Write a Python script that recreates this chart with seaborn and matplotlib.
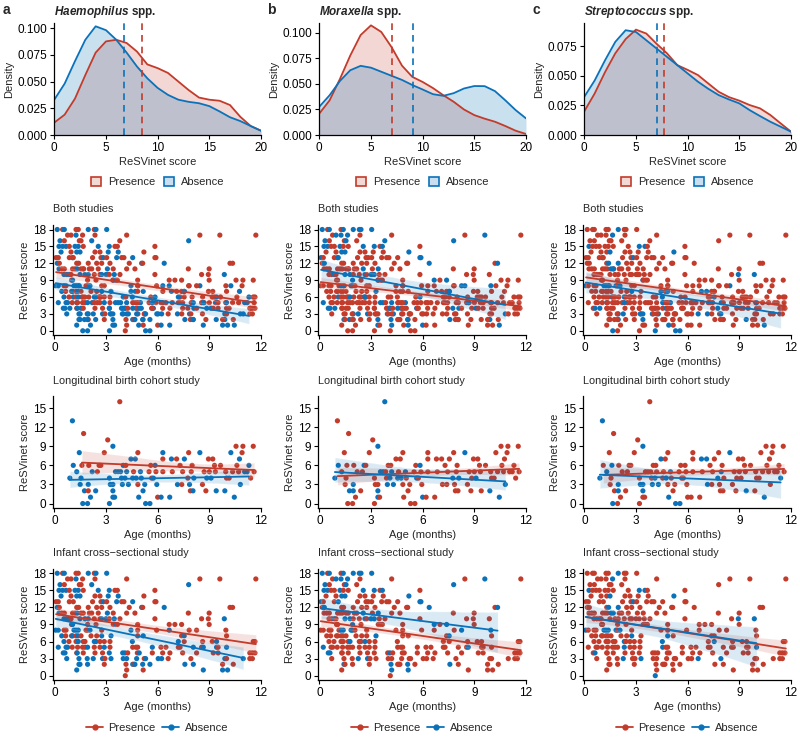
import numpy as np
import pandas as pd
import matplotlib.pyplot as plt
import seaborn as sns
from matplotlib.lines import Line2D
from matplotlib.patches import Patch

# ---- density curves (ReSVinet score 0..20) ----
dens_x = [0, 1, 2, 3, 4, 5, 6, 7, 8, 9, 10, 11, 12, 13, 14, 15, 16, 17, 18, 19, 20]
haem_pres = [0.0116, 0.019, 0.034, 0.056, 0.077, 0.0875, 0.089, 0.086, 0.078, 0.066, 0.0625,
             0.058, 0.050, 0.042, 0.035, 0.033, 0.032, 0.028, 0.017, 0.0084, 0.004]
haem_abs = [0.033, 0.048, 0.069, 0.089, 0.1016, 0.098, 0.089, 0.077, 0.064, 0.053, 0.044,
            0.0375, 0.033, 0.031, 0.0297, 0.027, 0.022, 0.0166, 0.013, 0.0084, 0.004]
mora_pres = [0.021, 0.034, 0.055, 0.078, 0.098, 0.1075, 0.101, 0.086, 0.068, 0.057, 0.052,
             0.046, 0.039, 0.0326, 0.025, 0.0195, 0.016, 0.013, 0.0088, 0.0042, 0.001]
mora_abs = [0.0277, 0.039, 0.053, 0.0635, 0.0678, 0.066, 0.062, 0.058, 0.054, 0.049, 0.0446,
            0.040, 0.0384, 0.041, 0.0456, 0.048, 0.0479, 0.043, 0.034, 0.0244, 0.0163]
strep_pres = [0.020, 0.035, 0.053, 0.069, 0.081, 0.089, 0.0857, 0.077, 0.069, 0.059, 0.055,
              0.0506, 0.0435, 0.0365, 0.032, 0.029, 0.0253, 0.0225, 0.0169, 0.0098, 0.0028]
strep_abs = [0.0323, 0.046, 0.063, 0.0787, 0.0885, 0.087, 0.080, 0.073, 0.066, 0.059, 0.052,
             0.045, 0.039, 0.0337, 0.030, 0.0267, 0.021, 0.016, 0.0112, 0.007, 0.0028]
mean_pres = [8.45, 7.0, 7.74]
mean_abs = [6.74, 9.03, 7.0]

# ---- longitudinal birth cohort study (age in months, score) ----
long_age = [0.9, 1.05, 1.1, 1.3, 1.45, 1.5, 1.55, 1.65, 1.7, 1.6,
            1.75, 1.93, 1.97, 1.97, 2.0, 2.1, 2.2, 2.4, 2.5, 2.6,
            2.7, 2.9, 3.1, 3.2, 3.2, 3.25, 3.4, 3.4, 3.4, 3.4,
            3.5, 3.55, 3.7, 3.8, 3.85, 3.9, 3.95, 4.0, 4.1, 4.15,
            4.2, 4.3, 4.45, 4.55, 4.6, 4.7, 4.75, 4.85, 4.85, 4.9,
            5.0, 5.05, 5.15, 5.25, 5.3, 5.5, 5.55, 5.6, 5.65, 5.75,
            5.85, 5.9, 5.95, 6.0, 6.2, 6.3, 6.3, 6.3, 6.7, 6.8,
            6.85, 7.1, 7.15, 7.3, 7.4, 7.45, 7.55, 7.75, 7.8, 7.85,
            7.9, 7.95, 8.0, 8.05, 8.1, 8.45, 8.6, 8.7, 8.8, 8.85,
            8.95, 9.0, 9.1, 9.2, 9.3, 9.35, 9.4, 9.65, 9.9, 9.95,
            10.0, 10.15, 10.25, 10.35, 10.45, 10.55, 10.6, 10.7, 10.75, 10.8,
            10.9, 10.95, 11.05, 11.2, 11.3, 11.4, 11.55, 11.6]
long_score = [4, 13, 6, 5, 8, 3, 4, 0, 11, 6,
              2, 0, 3, 2, 6, 1, 5, 2, 5, 6,
              6, 8, 10, 0, 4, 3, 9, 3, 2, 1,
              1, 5, 5, 16, 5, 4, 3, 6, 4, 6,
              5, 3, 7, 4, 5, 7, 4, 8, 3, 1,
              5, 4, 2, 3, 0, 5, 0, 6, 4, 4,
              6, 5, 3, 1, 1, 8, 7, 5, 1, 7,
              5, 7, 3, 6, 3, 5, 7, 4, 8, 3,
              2, 5, 6, 2, 4, 8, 3, 5, 2, 4,
              7, 5, 4, 7, 6, 5, 2, 6, 2, 5,
              4, 4, 8, 5, 1, 9, 6, 5, 7, 3,
              8, 9, 5, 5, 6, 4, 9, 5]
# P = presence, A = absence of each genus
long_haem = ("AAAAAAAAPP AAAPPAAAPP PPPAAAAAAA AAAPAAAAAP AAAAPAAPPA AAAAAPAPPA "
             "APAPAAPPAA PPAPPPAPPA PPPAAAPPPA PPAPPPAPAP PPAPAPPPAA PPAAAPPP")
long_mora = ("APAPPPPPPP APAAPPPPPA PPPPPPAPAA PAAAPPAPAP AAPAPPAPPP APPPPPPPAP "
             "APPAPPPPPP PPPPPPPAPP PPPPAAPPPP PPAPPPPPAP PPPPAPPPPA PPPPPPPP")
long_strep = ("AAPAPPPAPA PPAAPPPPPP PPPPPAAAAP PPPPPPAPAP PAAPPPAPPA APPPAPAPPP "
              "PPPPPPPPPA PAAPPPPAPP PAPPPAPPPP PPPPPPAPPP PPPPAPPPPP PPPPPAPP")

# ---- infant cross-sectional study: ages listed per score row ----
cross_rows = [18, 17, 16, 15, 14, 13, 12, 11, 10, 9, 8, 7, 6, 5, 4, 3, 2, 1, 0]
cross_age_rows = [
    [0.17, 0.48, 0.58, 1.26, 1.39, 1.97, 2.32, 2.42, 3.04],
    [0.77, 0.97, 1.26, 1.64, 2.36, 4.2, 8.45, 9.61, 11.7],
    [0.33, 0.58, 1.45, 1.55, 2.17, 7.8],
    [0.27, 0.48, 0.68, 0.87, 1.2, 1.39, 1.68, 2.55, 3.19, 3.52, 3.66, 5.84],
    [0.39, 0.97, 1.3, 1.49, 2.36, 2.65, 3.13, 3.71, 5.2],
    [0.1, 0.23, 0.87, 1.1, 2.22, 2.71, 2.84, 3.04, 3.62, 3.91, 4.04, 4.55, 5.84, 5.9],
    [0.17, 0.29, 1.3, 1.41, 1.97, 2.46, 2.75, 3.23, 4.35, 5.07, 5.13, 6.38, 10.2, 10.35],
    [0.27, 0.43, 0.58, 1.06, 1.2, 1.33, 1.55, 1.68, 2.03, 2.17, 2.55, 3.08, 3.42, 4.2, 4.68, 7.78, 8.99],
    [0.56, 0.72, 0.87, 0.97, 1.49, 1.78, 1.97, 2.32, 2.65, 2.75, 3.0, 3.19, 3.48, 3.81, 5.84, 8.55, 8.94, 9.87],
    [1.0, 1.06, 1.93, 2.42, 3.42, 3.56, 3.66, 4.84, 6.67, 7.0, 7.39, 8.99],
    [0.08, 0.23, 0.56, 0.68, 1.14, 1.26, 1.39, 1.84, 1.93, 2.07, 2.75, 4.45, 4.84, 5.94, 6.67, 7.83, 8.26, 9.96],
    [0.43, 0.66, 1.0, 1.06, 1.26, 1.37, 1.55, 2.13, 2.46, 2.75, 3.29, 4.84, 5.16, 7.39, 7.54, 10.0],
    [0.56, 0.85, 1.26, 1.39, 1.68, 1.78, 2.32, 2.42, 2.65, 2.9, 3.23, 4.53, 7.2, 7.54, 8.61, 9.17, 9.42, 11.55, 11.65],
    [0.23, 0.68, 0.77, 1.04, 1.35, 1.64, 1.78, 1.93, 2.32, 2.65, 2.9, 3.23, 4.55, 4.74, 4.84, 5.69, 6.19,
     6.48, 7.2, 7.3, 8.07, 8.55, 8.65, 9.42, 9.51, 10.0],
    [0.52, 0.62, 1.3, 1.33, 1.68, 2.36, 2.8, 3.19, 3.97, 4.1, 4.26, 4.82, 4.93, 5.69, 6.29, 6.71, 7.45,
     8.26, 9.23, 9.51, 11.35, 11.5, 11.65],
    [0.72, 1.43, 1.91, 2.26, 2.8, 2.94, 3.29, 4.0, 4.2, 4.78, 5.22, 5.3, 6.03, 6.23, 6.61, 7.93, 9.9,
     10.0, 10.97, 11.35, 11.5],
    [1.43, 1.49, 1.93, 2.9, 4.16, 4.55, 4.62, 4.68, 5.13, 5.55, 7.58, 8.07, 9.77, 10.39],
    [1.3, 4.2, 5.16, 8.65, 9.77, 10.06],
    [4.12],
]
cross_haem = ("APAPPAPAA PPAPPPPPP APPPAA AAAPAAPAAPPP APAAPPAAP PPPPPPAPAPPAPP "
              "APPPPPPPPAPAPP APPPPAPPPPPAPPPPP AAAPAAAPPAAPAPPPPA PAPPPAPPPPPP "
              "AAPPAAAPPAPAPPAPPP APPAPAPPPAAPAPAP APPAPPAAPPPAAPPPAPP "
              "AAAPPPPAPPAPPPPAPPPPAPAAPA AAPAPPPAAAPPAPPPPPPPPPP AAAAAPAAAAPAAAPPAPAPP "
              "AAAPPAPAAAAAPP APPAAA P")
cross_mora = ("APAPAAAAA PAAAPPPAP APPAPA AAPPAPPAAPAP PPAAPPPPA APPAPPPPPPPPAA "
              "PAPPPPPPPPPAPA PPPPPPPPPPAPAPPPP PPAPAAPPAPAAPPPPPP PPAPPPPPAPAP "
              "PPPPPAAAAPPPPPPPAA PPPPPPPPPPAPPPAP PPPPPAPPAPPPPPPPPPP "
              "APPPPPPPPPPPPPPPPPPPPPAPPP AAPPPPPPPAPPPPPPPPPPPPP PPPAAPPPPPPPPPPPPPPPP "
              "APPPAPPPAPAPPP PAAPPP P")
cross_strep = ("PPPPPAPPP PPPAPPPPP PPPPPP APPPPPPPAAPP PPPAPPPPA PPPPPPAPPPPPPP "
               "PPPAAPPPPPPPPP PPPPPPAAPPPPPPPPP PPPPPPPPPPPPPPPPAA PPPPPPPPPPPP "
               "APPPAAAAPAPPPPPPPP PPPPPPPPPAPAPPPP PPPPPPAPPPPAPAPPPPP "
               "PPPPPPPPAPPPAPPPPPPPPPPPPA PAPPPPPPPPPPPPPPPPPPPPP PPPAPPAPPPPPPPAAPPPPP "
               "PPPPPPPPPPPPPP PPPPPP A")

genera = ["Haemophilus", "Moraxella", "Streptococcus"]
flag_cols = ["haem", "mora", "strep"]
dens_pres = [haem_pres, mora_pres, strep_pres]
dens_abs = [haem_abs, mora_abs, strep_abs]
letters = ["a", "b", "c"]

RED = "#C23B2B"
BLUE = "#0B72B9"
LABELS = {"P": "Presence", "A": "Absence"}
PAL = {"Presence": RED, "Absence": BLUE}


def flags(s):
    return [LABELS[c] for c in "".join(s.split())]


long_df = pd.DataFrame({"age": long_age, "score": long_score,
                        "haem": flags(long_haem), "mora": flags(long_mora),
                        "strep": flags(long_strep)})
c_age = [a for row in cross_age_rows for a in row]
c_score = [s for s, row in zip(cross_rows, cross_age_rows) for _ in row]
cross_df = pd.DataFrame({"age": c_age, "score": c_score,
                         "haem": flags(cross_haem), "mora": flags(cross_mora),
                         "strep": flags(cross_strep)})
both_df = pd.concat([long_df, cross_df], ignore_index=True)

sns.set_theme(style="ticks")
plt.rcParams.update({
    "font.family": ["Liberation Sans", "DejaVu Sans"],
    "font.size": 8,
    "axes.labelsize": 8,
    "axes.titlesize": 7.8,
    "xtick.labelsize": 8.5,
    "ytick.labelsize": 8.5,
    "axes.linewidth": 0.9,
    "axes.edgecolor": "black",
    "xtick.color": "black",
    "ytick.color": "black",
    "xtick.major.size": 3,
    "ytick.major.size": 3,
    "xtick.major.width": 0.8,
    "ytick.major.width": 0.8,
    "xtick.major.pad": 2,
    "ytick.major.pad": 2,
    "axes.labelpad": 2.5,
    "mathtext.fontset": "custom",
    "mathtext.it": "Liberation Sans:italic:bold",
    "mathtext.rm": "Liberation Sans:bold",
})

W, H = 800, 742
fig = plt.figure(figsize=(8, 7.42), dpi=100)


def rect(left, top, right, bottom):
    return [left / W, 1 - bottom / H, (right - left) / W, (bottom - top) / H]


col_left = [54.3, 319.3, 584.3]
dens_ylim = [0.1047, 0.1098, 0.0946]
dens_ticks = [[0, 0.025, 0.05, 0.075, 0.1], [0, 0.025, 0.05, 0.075, 0.1], [0, 0.025, 0.05, 0.075]]
rows = [("Both studies", both_df, 225, 335, (-0.75, 18.8), [0, 3, 6, 9, 12, 15, 18]),
        ("Longitudinal birth cohort study", long_df, 396, 508, (-0.7, 16.9), [0, 3, 6, 9, 12, 15]),
        ("Infant cross\u2212sectional study", cross_df, 569, 680, (-0.76, 18.75), [0, 3, 6, 9, 12, 15, 18])]

for j in range(3):
    L = col_left[j]
    # density panel
    ax = fig.add_axes(rect(L, 23, L + 206.7, 135))
    ax.fill_between(dens_x, dens_pres[j], color=RED, alpha=0.2, lw=0)
    ax.fill_between(dens_x, dens_abs[j], color=BLUE, alpha=0.22, lw=0)
    sns.lineplot(x=dens_x, y=dens_pres[j], color=RED, lw=1.3, ax=ax)
    sns.lineplot(x=dens_x, y=dens_abs[j], color=BLUE, lw=1.3, ax=ax)
    ax.axvline(mean_pres[j], color=RED, ls=(0, (4, 3)), lw=1.2)
    ax.axvline(mean_abs[j], color=BLUE, ls=(0, (4, 3)), lw=1.2)
    ax.set_xlim(0, 20)
    ax.set_ylim(0, dens_ylim[j])
    ax.set_xticks([0, 5, 10, 15, 20])
    ax.set_yticks(dens_ticks[j])
    ax.set_yticklabels([f"{t:.3f}" for t in dens_ticks[j]])
    ax.set_xlabel("ReSVinet score")
    ax.set_ylabel("Density")
    ax.set_title(r"$\it{" + genera[j] + r"}$ spp.", loc="left", fontweight="bold",
                 fontsize=8.5, pad=6)
    sns.despine(ax=ax)
    handles = [Patch(facecolor=(0.95, 0.85, 0.83), edgecolor=RED, lw=1.2),
               Patch(facecolor=(0.79, 0.87, 0.94), edgecolor=BLUE, lw=1.2)]
    ax.legend(handles, ["Presence", "Absence"], loc="center", bbox_to_anchor=(0.5, -0.42),
              ncol=2, frameon=False, handlelength=0.9, handleheight=0.9,
              handletextpad=0.6, columnspacing=0.8, fontsize=8)
    fig.text((L - 52) / W, 1 - 10 / H, letters[j], fontweight="bold", fontsize=10, va="center")

    # scatter / regression panels
    for title, df, top, bottom, ylim, yticks in rows:
        ax = fig.add_axes(rect(L - 1, top, L + 206.7, bottom))
        col = flag_cols[j]
        sns.scatterplot(data=df, x="age", y="score", hue=col, hue_order=["Presence", "Absence"],
                        palette=PAL, s=14, linewidth=0, legend=False, ax=ax)
        for grp in ["Presence", "Absence"]:
            sns.regplot(data=df[df[col] == grp], x="age", y="score", scatter=False,
                        color=PAL[grp], ci=95, seed=3, line_kws=dict(lw=1.3), ax=ax)
        ax.set_xlim(-0.06, 12)
        ax.set_ylim(*ylim)
        ax.set_xticks([0, 3, 6, 9, 12])
        ax.set_yticks(yticks)
        ax.set_xlabel("Age (months)")
        ax.set_ylabel("ReSVinet score")
        ax.set_title(title, loc="left", pad=9)
        sns.despine(ax=ax)
        if title.startswith("Infant"):
            handles = [Line2D([0], [0], color=RED, marker="o", markersize=3.5, lw=1.3),
                       Line2D([0], [0], color=BLUE, marker="o", markersize=3.5, lw=1.3)]
            ax.legend(handles, ["Presence", "Absence"], loc="center", bbox_to_anchor=(0.5, -0.43),
                      ncol=2, frameon=False, handlelength=1.5, handletextpad=0.5,
                      columnspacing=0.6, fontsize=8)

fig.savefig("out.png", dpi=100)
